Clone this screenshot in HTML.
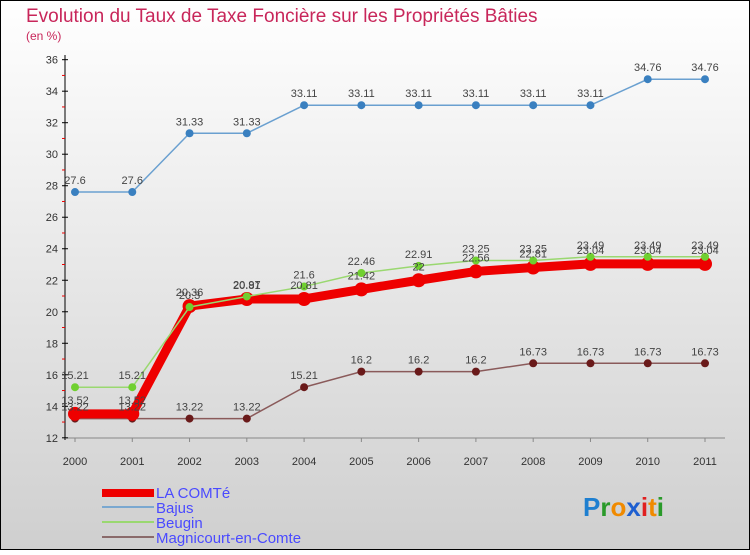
<!DOCTYPE html>
<html><head><meta charset="utf-8"><style>
body{margin:0}
#c{width:750px;height:550px;position:relative;font-family:"Liberation Sans",sans-serif}
</style></head><body>
<div id="c">
<svg id="s" width="750" height="550" xmlns="http://www.w3.org/2000/svg">
<defs><linearGradient id="bg" x1="0" y1="0" x2="0" y2="1"><stop offset="0" stop-color="#ffffff"/><stop offset="1" stop-color="#cfcfcf"/></linearGradient></defs>
<rect x="0.5" y="0.5" width="749" height="549" fill="url(#bg)" stroke="#000"/>
<text x="26" y="22" font-size="19" fill="#c8265a">Evolution du Taux de Taxe Foncière sur les Propriétés Bâties</text>
<text x="26" y="40" font-size="12" fill="#c8265a">(en %)</text>
<g id="grid"></g><g id="marks"></g><g id="lbls"></g>
<g>
<rect x="102" y="489" width="52" height="8" fill="#ee0000"/>
<text x="156" y="498" font-size="15" fill="#4a4aff">LA COMTé</text>
<rect x="102" y="506" width="52" height="2" fill="#7aa8d0"/>
<text x="156" y="513" font-size="15" fill="#4a4aff">Bajus</text>
<rect x="102" y="521" width="52" height="2" fill="#9ad870"/>
<text x="156" y="528" font-size="15" fill="#4a4aff">Beugin</text>
<rect x="102" y="536" width="52" height="2" fill="#8a6a6a"/>
<text x="156" y="543" font-size="15" fill="#4a4aff">Magnicourt-en-Comte</text>
</g>
<text x="583" y="516" font-size="26" font-weight="bold"><tspan fill="#1e7fd0">P</tspan><tspan fill="#2a9a2a">r</tspan><tspan fill="#f08a00">o</tspan><tspan fill="#1e5fd0">x</tspan><tspan fill="#e02020">i</tspan><tspan fill="#f08a00">t</tspan><tspan fill="#2a9a2a">i</tspan></text>
</svg></div>
<script>
const years=[2000,2001,2002,2003,2004,2005,2006,2007,2008,2009,2010,2011];
const yTicks=[12,14,16,18,20,22,24,26,28,30,32,34,36];
const laComte=[13.52,13.52,20.36,20.81,20.81,21.42,22,22.56,22.81,23.04,23.04,23.04];
const bajus=[27.6,27.6,31.33,31.33,33.11,33.11,33.11,33.11,33.11,33.11,34.76,34.76];
const beugin=[15.21,15.21,20.3,20.97,21.6,22.46,22.91,23.25,23.25,23.49,23.49,23.49];
const magni=[13.22,13.22,13.22,13.22,15.21,16.2,16.2,16.2,16.73,16.73,16.73,16.73];
const NS="http://www.w3.org/2000/svg";
const xS=i=>75+i*(705-75)/(years.length-1);
const yS=v=>437.8-(v-12)*15.755;
function mk(p,t,a){const e=document.createElementNS(NS,t);for(const k in a)e.setAttribute(k,a[k]);document.getElementById(p).appendChild(e);return e;}
let e=mk('grid','line',{x1:65,y1:55,x2:65,y2:440,stroke:'#000'});


e=mk('grid','line',{x1:65,y1:438,x2:725,y2:438,stroke:'#888'});


yTicks.forEach((t,i)=>{const y=yS(t);
 let l=mk('grid','line',{x1:62,y1:y,x2:68,y2:y,stroke:'#000'});
 
 
 if(i<yTicks.length-1){let m=mk('grid','line',{x1:62,y1:yS(t+1),x2:65,y2:yS(t+1),stroke:'#e00'});
 
 }
 let tx=mk('grid','text',{x:58,y:y+4,'font-size':11,'text-anchor':'end',fill:'#333'});tx.textContent=t;
 
 });
years.forEach((yr,i)=>{let tx=mk('grid','text',{x:xS(i),y:465,'font-size':11,'text-anchor':'middle',fill:'#333'});tx.textContent=yr;
 
 
 let l=mk('grid','line',{x1:xS(i),y1:438,x2:xS(i),y2:442,stroke:'#888'});
 
 });
function series(name,vals,col,w,r,dot,lblDy){
 const g=mk('marks','g',{});
 
 
 const p=document.createElementNS(NS,'polyline');
 p.setAttribute('points',vals.map((v,i)=>xS(i)+','+yS(v)).join(' '));
 p.setAttribute('fill','none');p.setAttribute('stroke',col);p.setAttribute('stroke-width',w);p.setAttribute('stroke-linejoin','round');
 
 
 g.appendChild(p);
 vals.forEach((v,i)=>{const c=document.createElementNS(NS,'circle');
  c.setAttribute('cx',xS(i));c.setAttribute('cy',yS(v));c.setAttribute('r',r);c.setAttribute('fill',dot);
  
  
  g.appendChild(c);
  const t=mk('lbls','text',{x:xS(i),y:yS(v)+lblDy,'font-size':11,'text-anchor':'middle',fill:'#444'});t.textContent=v;
  
  });
}
series('magnicourt',magni,'#8a5a5a',1.5,4,'#6a1a1a',-8);
series('la-comte',laComte,'#ee0000',9,7,'#ee0000',-10);
series('beugin',beugin,'#9ad870',1.5,4,'#70d030',-8);
series('bajus',bajus,'#6aa0d0',1.5,4,'#3a80c0',-8);
</script>
</body></html>
